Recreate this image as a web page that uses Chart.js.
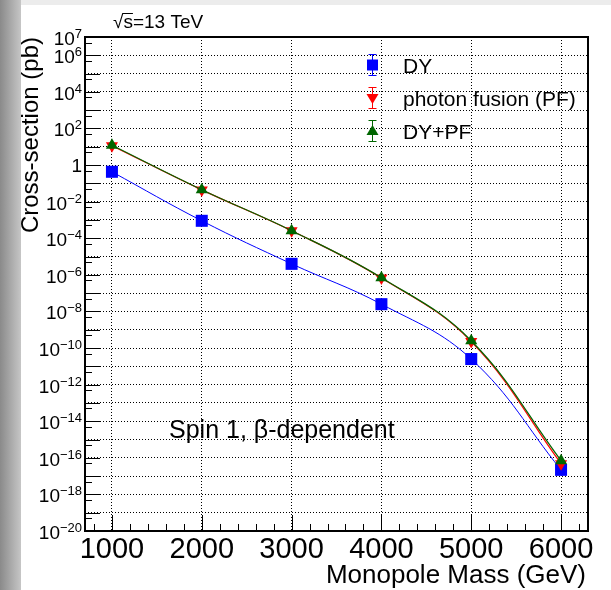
<!DOCTYPE html>
<html>
<head>
<meta charset="utf-8">
<script src="https://cdn.jsdelivr.net/npm/chart.js@4.4.1/dist/chart.umd.min.js"></script>
<style>
  html, body { margin: 0; padding: 0; background: #fff; }
  canvas { display: block; }
</style>
</head>
<body>
<canvas id="xsecChart" width="611" height="590"></canvas>
<script>
// Monopole masses (GeV)
const MASSES = [1000, 2000, 3000, 4000, 5000, 6000];

// Cross-sections in pb
const DY_XSEC = [0.43, 9e-4, 4e-6, 2.5e-8, 2.5e-11, 2.2e-17];
const PF_XSEC = [11.5, 0.044, 2.56e-4, 6.75e-7, 2.25e-10, 4.8e-17];
const DYPF_XSEC = [12, 0.045, 2.6e-4, 7e-7, 2.5e-10, 7e-17];

const SERIES_NAMES = ['DY', 'photon fusion (PF)', 'DY+PF'];

// Axis ticks
const X_TICKS = [1000, 2000, 3000, 4000, 5000, 6000];
const X_MINOR_STEP = 200;
const Y_DECADES = [];
for (let e = -20; e <= 7; e++) Y_DECADES.push(e);
const Y_LABEL_EXPS = [7, 6, 4, 2, 0, -2, -4, -6, -8, -10, -12, -14, -16, -18, -20];

const FONT = '"Liberation Sans", Arial, Helvetica, sans-serif';
const BLUE = '#0000ff';
const RED = '#ff0000';
const GREEN = '#006600';

function toPoints(values) {
    return MASSES.map((m, i) => ({ x: m, y: values[i] }));
}

// Small marker drawing for the legend
function drawMarker(ctx, kind, x, y, color) {
    ctx.fillStyle = color;
    ctx.beginPath();
    if (kind === 'square') {
        ctx.rect(x - 5.5, y - 5.5, 11, 11);
    } else if (kind === 'down') {
        ctx.moveTo(x - 6, y - 4);
        ctx.lineTo(x + 6, y - 4);
        ctx.lineTo(x, y + 6);
    } else {
        ctx.moveTo(x - 6, y + 4);
        ctx.lineTo(x + 6, y + 4);
        ctx.lineTo(x, y - 6);
    }
    ctx.closePath();
    ctx.fill();
}

const rootStyle = {
    id: 'rootStyle',
    beforeDraw(chart) {
        const ctx = chart.ctx;
        ctx.save();
        ctx.fillStyle = '#ececec';
        ctx.fillRect(0, 0, chart.width, 5);
        const g = ctx.createLinearGradient(0, 0, 21, 0);
        g.addColorStop(0, '#8a8a8a');
        g.addColorStop(1, '#c6c6c6');
        ctx.fillStyle = g;
        ctx.fillRect(0, 0, 21, chart.height);
        ctx.restore();
    },
    afterDraw(chart) {
        const ctx = chart.ctx;
        const area = chart.chartArea;
        const xs = chart.scales.x;
        const ys = chart.scales.y;
        ctx.save();

        // tick marks, drawn inside the frame
        ctx.strokeStyle = '#000';
        ctx.lineWidth = 1;
        ctx.beginPath();
        for (let v = 800; v <= 6200; v += X_MINOR_STEP) {
            const px = Math.round(xs.getPixelForValue(v)) + 0.5;
            const len = X_TICKS.includes(v) ? 16 : 7;
            ctx.moveTo(px, area.bottom);
            ctx.lineTo(px, area.bottom - len);
        }
        Y_DECADES.forEach(e => {
            let py = Math.round(ys.getPixelForValue(Math.pow(10, e))) + 0.5;
            ctx.moveTo(area.left, py);
            ctx.lineTo(area.left + 15, py);
            if (e < 7) {
                py = Math.round(ys.getPixelForValue(5 * Math.pow(10, e))) + 0.5;
                ctx.moveTo(area.left, py);
                ctx.lineTo(area.left + 7, py);
            }
        });
        ctx.stroke();

        // frame
        ctx.lineWidth = 2;
        ctx.strokeRect(area.left, area.top, area.right - area.left, area.bottom - area.top);

        // x tick labels
        ctx.fillStyle = '#000';
        ctx.font = '29px ' + FONT;
        ctx.textAlign = 'center';
        ctx.textBaseline = 'alphabetic';
        X_TICKS.forEach(v => {
            ctx.fillText(String(v), xs.getPixelForValue(v), 558);
        });

        // y tick labels with superscript exponents
        const right = 82;
        Y_LABEL_EXPS.forEach(e => {
            const py = ys.getPixelForValue(Math.pow(10, e));
            ctx.textAlign = 'right';
            if (e === 0) {
                ctx.font = '19px ' + FONT;
                ctx.fillText('1', right, py + 7);
                return;
            }
            const sup = e < 0 ? '\u2212' + Math.abs(e) : String(e);
            ctx.font = '13px ' + FONT;
            const supW = ctx.measureText(sup).width;
            ctx.fillText(sup, right, py + 1);
            ctx.font = '19px ' + FONT;
            ctx.fillText('10', right - supW, py + 8);
        });

        // axis titles
        ctx.font = '26px ' + FONT;
        ctx.textAlign = 'right';
        ctx.fillText('Monopole Mass (GeV)', 586, 583);
        ctx.save();
        ctx.translate(38, area.top);
        ctx.rotate(-Math.PI / 2);
        ctx.font = '24px ' + FONT;
        ctx.textAlign = 'right';
        ctx.fillText('Cross-section (pb)', 0, 0);
        ctx.restore();

        // energy label
        ctx.textAlign = 'left';
        ctx.font = '19px ' + FONT;
        const sx = 113, sy = 28;
        const rootW = ctx.measureText('\u221a').width;
        ctx.fillText('\u221a', sx, sy);
        ctx.fillText('s=13 TeV', sx + rootW, sy);
        const sW = ctx.measureText('s').width;
        ctx.lineWidth = 1;
        ctx.beginPath();
        ctx.moveTo(sx + rootW - 1, sy - 14.5);
        ctx.lineTo(sx + rootW + sW, sy - 14.5);
        ctx.stroke();

        // annotation
        ctx.font = '25px ' + FONT;
        ctx.fillText('Spin 1, \u03b2-dependent', 169, 438);

        // legend
        const rows = [
            { name: SERIES_NAMES[0], kind: 'square', color: BLUE, y: 65 },
            { name: SERIES_NAMES[1], kind: 'down', color: RED, y: 98 },
            { name: SERIES_NAMES[2], kind: 'up', color: GREEN, y: 131 }
        ];
        ctx.font = '21px ' + FONT;
        rows.forEach(r => {
            const mx = 372.5;
            ctx.strokeStyle = r.color;
            ctx.lineWidth = 1;
            ctx.beginPath();
            ctx.moveTo(mx, r.y - 10);
            ctx.lineTo(mx, r.y + 10);
            ctx.moveTo(mx - 4, r.y - 10.5);
            ctx.lineTo(mx + 4, r.y - 10.5);
            ctx.moveTo(mx - 4, r.y + 10.5);
            ctx.lineTo(mx + 4, r.y + 10.5);
            ctx.stroke();
            drawMarker(ctx, r.kind, mx, r.y, r.color);
            ctx.fillStyle = '#000';
            ctx.fillText(r.name, 403, r.y + 8);
        });

        ctx.restore();
    }
};

new Chart(document.getElementById('xsecChart'), {
    type: 'line',
    data: {
        datasets: [{
            label: SERIES_NAMES[2],
            data: toPoints(DYPF_XSEC),
            borderColor: GREEN,
            backgroundColor: GREEN,
            borderWidth: 1.2,
            pointStyle: 'triangle',
            pointRadius: 7,
            pointBorderWidth: 0,
            tension: 0.4,
            order: 0
        }, {
            label: SERIES_NAMES[1],
            data: toPoints(PF_XSEC),
            borderColor: RED,
            backgroundColor: RED,
            borderWidth: 1.2,
            pointStyle: 'triangle',
            pointRotation: 180,
            pointRadius: 7,
            pointBorderWidth: 0,
            tension: 0.4,
            order: 1
        }, {
            label: SERIES_NAMES[0],
            data: toPoints(DY_XSEC),
            borderColor: BLUE,
            backgroundColor: BLUE,
            borderWidth: 1,
            pointStyle: 'rect',
            pointRadius: 8.5,
            pointBorderWidth: 0,
            tension: 0.4,
            order: 2
        }]
    },
    options: {
        responsive: false,
        animation: false,
        devicePixelRatio: 1,
        layout: { padding: { top: 37, right: 23, left: 0, bottom: 0 } },
        plugins: {
            legend: { display: false },
            tooltip: { enabled: false }
        },
        scales: {
            x: {
                type: 'linear',
                min: 700,
                max: 6300,
                afterBuildTicks: s => { s.ticks = X_TICKS.map(v => ({ value: v })); },
                afterFit: s => { s.height = 59; },
                ticks: { display: false },
                grid: { color: '#000', lineWidth: 1, drawTicks: false, tickLength: 0 },
                border: { display: false, dash: [1, 2] }
            },
            y: {
                type: 'logarithmic',
                min: 1e-20,
                max: 1e7,
                afterBuildTicks: s => { s.ticks = Y_DECADES.map(e => ({ value: Math.pow(10, e) })); },
                afterFit: s => { s.width = 85; },
                ticks: { display: false },
                grid: { color: '#000', lineWidth: 1, drawTicks: false, tickLength: 0 },
                border: { display: false, dash: [1, 2] }
            }
        }
    },
    plugins: [rootStyle]
});
</script>
</body>
</html>
